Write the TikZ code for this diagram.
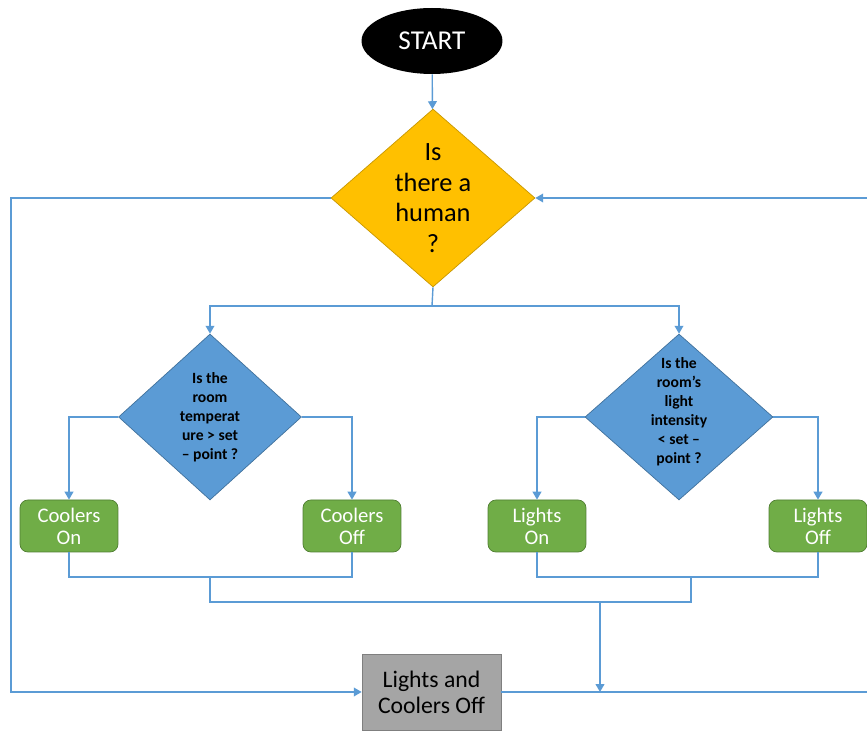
\documentclass[tikz,border=0pt]{standalone}
\usepackage{fontspec}
\setmainfont{Carlito}
\usetikzlibrary{shapes.geometric,arrows.meta}
\definecolor{linea}{HTML}{5B9BD5}
\definecolor{giallo}{HTML}{FFC000}
\definecolor{giallobordo}{HTML}{C99800}
\definecolor{blu}{HTML}{5B9BD5}
\definecolor{blubordo}{HTML}{41719C}
\definecolor{verde}{HTML}{70AD47}
\definecolor{verdebordo}{HTML}{507E32}
\definecolor{grigio}{HTML}{A5A5A5}
\definecolor{grigiobordo}{HTML}{7F7F7F}
\begin{document}
\begin{tikzpicture}[x=0.02cm, y=-0.02cm,
    >={Triangle[length=4.5pt,width=5pt]},
    flow/.style={draw=linea, line width=0.8pt},
    startnode/.style={ellipse, fill=black, text=white, minimum width=2.82cm, minimum height=1.32cm, inner sep=0pt, font=\fontsize{15.5}{18}\selectfont},
    bigask/.style={diamond, fill=giallo, draw=giallobordo, minimum width=4.08cm, minimum height=3.56cm, inner sep=-12pt, align=center, font=\fontsize{15}{17.4}\selectfont},
    ask/.style={diamond, fill=blu, draw=blubordo, minimum height=3.32cm, inner sep=-12pt, align=center, font=\fontsize{8.9}{10.8}\selectfont\bfseries},
    action/.style={rectangle, rounded corners=4.5pt, fill=verde, draw=verdebordo, text=white, minimum width=1.96cm, minimum height=1.04cm, inner sep=0pt, align=center, font=\fontsize{11.8}{12.6}\selectfont},
    allout/.style={rectangle, fill=grigio, draw=grigiobordo, minimum width=2.78cm, minimum height=1.52cm, inner sep=0pt, align=center, font=\fontsize{13.5}{14.8}\selectfont}]
    \useasboundingbox (0,0) rectangle (867,732);

    % Nodi
    \node[startnode] (start) at (432,41) {START};
    \node[bigask] (human) at (433,198) {Is\\there a\\human\\?};
    \node[ask, minimum width=3.66cm] (temp) at (210,417) {Is the\\room\\temperat\\ure > set\\-- point ?};
    \node[ask, minimum width=3.76cm] (light) at (679,417) {Is the\\room’s\\light\\intensity\\< set --\\point ?\\[-3pt]};
    \node[action] (con) at (69,526) {Coolers\\On};
    \node[action] (coff) at (352,526) {Coolers\\Off};
    \node[action] (lon) at (537,526) {Lights\\On};
    \node[action] (loff) at (818,526) {Lights\\Off};
    \node[allout] (off) at (431.5,692) {Lights and\\Coolers Off};

    % Punti di appoggio
    \coordinate (split) at (432,306);
    \coordinate (lft) at (11,198);
    \coordinate (rgttop) at (867,198);
    \coordinate (rgtbot) at (867,692);
    \coordinate (cjoin) at (210,577);
    \coordinate (ljoin) at (691,577);
    \coordinate (merge) at (600,602);

    % Collegamenti
    \draw[flow,->] (start) -- (human);
    \draw[flow] (human.south) -- (split);
    \draw[flow,->] (split) -| (temp.north);
    \draw[flow,->] (split) -| (light.north);
    \draw[flow,->] (temp.west) -| (con.north);
    \draw[flow,->] (temp.east) -| (coff.north);
    \draw[flow,->] (light.west) -| (lon.north);
    \draw[flow,->] (light.east) -| (loff.north);
    \draw[flow] (con.south) |- (cjoin) -| (coff.south);
    \draw[flow] (lon.south) |- (ljoin) -| (loff.south);
    \draw[flow] (cjoin) |- (merge) -| (ljoin);
    \draw[flow,->] (merge) -- (merge |- off.east);
    \draw[flow,->] (human.west) -- (lft) |- (off.west);
    \draw[flow] (off.east) -- (rgtbot);
    \draw[flow,->] (rgttop) -- (human.east);
\end{tikzpicture}
\end{document}
